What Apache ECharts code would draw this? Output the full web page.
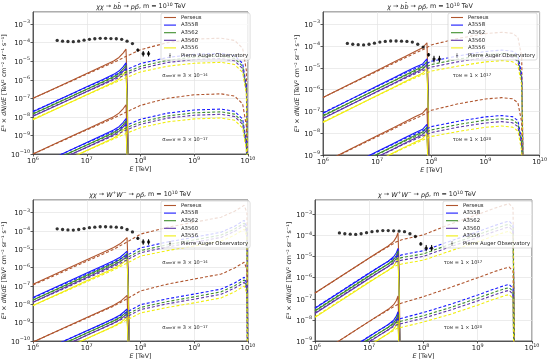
<!DOCTYPE html>
<html><head><meta charset="utf-8">
<script src="https://cdn.jsdelivr.net/npm/echarts@6/dist/echarts.min.js"></script>
<style>html,body{margin:0;padding:0;background:#fff}#c{width:550px;height:362px}</style>
</head><body><div id="c"></div><script>
// ---------------- DATA (log10 values) ----------------
const CLUSTERS = ['Perseus', 'A3558', 'A3562', 'A3560', 'A3556'];
const AUGER = 'Pierre Auger Observatory';

// Panel 1: chi chi -> b bbar -> p pbar (annihilation)
const p1SolidE  = [6, 6.5, 7, 7.3, 7.5, 7.6, 7.68, 7.73, 7.75, 7.78];
const p1UpSolid = [-7.0, -6.33, -5.66, -5.26, -4.99, -4.8, -4.55, -4.35, -6.0, -12];
const p1LoSolid = [-10.0, -9.33, -8.66, -8.26, -7.99, -7.8, -7.55, -7.35, -9.0, -15];
const p1DashE   = [6, 6.5, 7, 7.5, 7.75, 8, 8.5, 9, 9.5, 9.75, 9.9, 9.97, 10.0];
const p1UpDash  = [-7.0, -6.35, -5.7, -5.07, -4.72, -4.38, -4.0, -3.81, -3.76, -3.88, -4.3, -5.5, -12];
const p1LoDash  = [-10.0, -9.35, -8.7, -8.07, -7.72, -7.38, -7.0, -6.81, -6.76, -6.88, -7.3, -8.5, -15];

// Panel 2: chi -> b bbar -> p pbar (decay)
const p2SolidE  = [6, 6.5, 7, 7.3, 7.5, 7.7, 7.84, 7.92, 7.94, 7.97];
const p2UpSolid = [-6.36, -5.74, -5.12, -4.75, -4.5, -4.25, -4.08, -3.85, -5.5, -12];
const p2LoSolid = [-9.36, -8.74, -8.12, -7.75, -7.5, -7.25, -7.08, -6.85, -8.5, -15];
const p2DashE   = [6, 6.5, 7, 7.5, 7.9, 8, 8.5, 9, 9.3, 9.5, 9.6, 9.67, 9.71];
const p2UpDash  = [-6.36, -5.76, -5.16, -4.56, -4.1, -3.95, -3.65, -3.43, -3.37, -3.42, -3.6, -4.5, -12];
const p2LoDash  = [-9.36, -8.76, -8.16, -7.56, -7.1, -6.95, -6.65, -6.43, -6.37, -6.42, -6.6, -7.5, -15];

// Panel 3: chi chi -> W+ W- -> p pbar (annihilation)
const p3SolidE  = [6, 6.5, 7, 7.3, 7.5, 7.62, 7.7, 7.75, 7.77, 7.8];
const p3UpSolid = [-6.91, -6.24, -5.57, -5.17, -4.9, -4.7, -4.5, -4.36, -6.0, -12];
const p3LoSolid = [-10.06, -9.39, -8.72, -8.32, -8.05, -7.85, -7.65, -7.51, -9.15, -15];
const p3DashE   = [6, 6.5, 7, 7.5, 7.75, 8, 8.5, 9, 9.5, 9.75, 9.93, 9.98, 10.0];
const p3UpDash  = [-6.95, -6.3, -5.65, -5.0, -4.6, -4.17, -3.8, -3.52, -3.25, -2.92, -2.6, -3.0, -12];
const p3LoDash  = [-10.05, -9.4, -8.75, -8.1, -7.7, -7.27, -6.9, -6.62, -6.35, -6.02, -5.7, -6.1, -15];

// Panel 4: chi -> W+ W- -> p pbar (decay)
const p4SolidE  = [6, 6.5, 7, 7.2, 7.35, 7.45, 7.5, 7.53, 7.55, 7.58];
const p4UpSolid = [-6.73, -5.9, -5.07, -4.74, -4.5, -4.28, -4.08, -3.87, -5.5, -12];
const p4LoSolid = [-9.73, -8.9, -8.07, -7.74, -7.5, -7.28, -7.08, -6.87, -8.5, -15];
const p4DashE   = [6, 6.5, 7, 7.5, 7.6, 8, 8.5, 9, 9.3, 9.5, 9.58, 9.65, 9.69];
const p4UpDash  = [-6.73, -5.9, -5.07, -4.3, -4.2, -3.97, -3.46, -3.0, -2.72, -2.55, -2.5, -2.69, -12];
const p4LoDash  = [-9.73, -8.9, -8.07, -7.3, -7.2, -6.9, -6.46, -6.0, -5.72, -5.55, -5.5, -5.69, -15];

// Other clusters relative to Perseus (log10 offsets)
const solidOffset = [
  [0, 0, 0, 0, 0, 0, 0, 0, 0, 0],
  [-0.72, -0.72, -0.72, -0.72, -0.72, -0.73, -0.74, -0.74, -0.74, -0.74],
  [-0.85, -0.85, -0.85, -0.85, -0.85, -0.86, -0.87, -0.87, -0.87, -0.87],
  [-0.97, -0.97, -0.97, -0.97, -0.97, -0.98, -0.99, -0.99, -0.99, -0.99],
  [-1.15, -1.15, -1.15, -1.15, -1.15, -1.16, -1.17, -1.17, -1.17, -1.17]
];
const dashOffset = [
  [0, 0, 0, 0, 0, 0, 0, 0, 0, 0, 0, 0, 0],
  [-0.7, -0.7, -0.7, -0.7, -0.72, -0.75, -0.8, -0.82, -0.82, -0.82, -0.82, -0.82, 0],
  [-0.82, -0.82, -0.82, -0.82, -0.85, -0.9, -0.95, -0.97, -0.97, -0.97, -0.97, -0.97, 0],
  [-0.94, -0.94, -0.94, -0.94, -0.97, -1.02, -1.07, -1.1, -1.1, -1.1, -1.1, -1.1, 0],
  [-1.12, -1.12, -1.12, -1.12, -1.15, -1.2, -1.27, -1.3, -1.3, -1.3, -1.3, -1.3, 0]
];

// Pierre Auger Observatory data
const augerLogE   = [6.45, 6.55, 6.65, 6.75, 6.85, 6.95, 7.05, 7.15, 7.25, 7.35, 7.45, 7.55, 7.65, 7.75, 7.85, 7.95, 8.05, 8.15];
const augerLogY   = [-3.88, -3.92, -3.94, -3.95, -3.92, -3.87, -3.82, -3.79, -3.77, -3.77, -3.78, -3.79, -3.82, -3.92, -4.05, -4.4, -4.6, -4.6];
const augerLogErr = [0, 0, 0, 0, 0, 0, 0, 0, 0, 0, 0, 0, 0, 0, 0, 0.08, 0.15, 0.15];

const titles = [
  '{i|χχ} → {i|bb̄} → {i|pp̄}, m = 10{s|10} TeV',
  '{i|χ} → {i|bb̄} → {i|pp̄}, m = 10{s|10} TeV',
  '{i|χχ} → {i|W}{s|+}{i|W}{s|−} → {i|pp̄}, m = 10{s|10} TeV',
  '{i|χ} → {i|W}{s|+}{i|W}{s|−} → {i|pp̄}, m = 10{s|10} TeV'
];
const annUpper = ['σ{sub|ann}v = 3 × 10{sup|−14}', 'τ{sub|DM} = 1 × 10{sup|17}', 'σ{sub|ann}v = 3 × 10{sup|−14}', 'τ{sub|DM} = 1 × 10{sup|17}'];
const annLower = ['σ{sub|ann}v = 3 × 10{sup|−17}', 'τ{sub|DM} = 1 × 10{sup|20}', 'σ{sub|ann}v = 3 × 10{sup|−17}', 'τ{sub|DM} = 1 × 10{sup|20}'];
const xAxisTitle = '{i|E} [TeV]';
const yAxisTitle = '{i|E}³ × {i|dN}/{i|dE} [TeV² cm⁻² sr⁻¹ s⁻¹]';

// ---------------- LAYOUT / STYLE ----------------
const COLORS = ['#b0562f', '#1a1aff', '#3e8e2c', '#5e36a8', '#f0ee10'];
const FONT = 'DejaVu Sans';
const panels = [
  {solidE: p1SolidE, dashE: p1DashE, up: [p1UpSolid, p1UpDash], lo: [p1LoSolid, p1LoDash],
   yMin: 1e-10, yMaxExp: -2.35, grid: {left: 33, top: 12, width: 215, height: 142},
   legend: {left: 161, top: 13}, yGap: 22, titlePos: [141, 6], annPos: [[185, 76], [185, 140]]},
  {solidE: p2SolidE, dashE: p2DashE, up: [p2UpSolid, p2UpDash], lo: [p2LoSolid, p2LoDash],
   yMin: 1e-9, yMaxExp: -2.44, grid: {left: 323, top: 12, width: 217, height: 143},
   legend: {left: 448, top: 13}, yGap: 16, titlePos: [430, 6], annPos: [[472, 76], [472, 140]]},
  {solidE: p3SolidE, dashE: p3DashE, up: [p3UpSolid, p3UpDash], lo: [p3LoSolid, p3LoDash],
   yMin: 1e-10, yMaxExp: -2.31, grid: {left: 33, top: 200, width: 215, height: 141},
   legend: {left: 161, top: 201}, yGap: 22, titlePos: [140, 194], annPos: [[185, 263], [185, 328]]},
  {solidE: p4SolidE, dashE: p4DashE, up: [p4UpSolid, p4UpDash], lo: [p4LoSolid, p4LoDash],
   yMin: 1e-9, yMaxExp: -2.32, grid: {left: 315, top: 200, width: 217, height: 141},
   legend: {left: 443, top: 201}, yGap: 14, titlePos: [427, 194], annPos: [[463, 263], [463, 328]]}
];

function powLabel(v) {
  const e = Math.round(Math.log10(v));
  return '{b|10}{s|' + (e < 0 ? '−' + (-e) : e) + '}';
}
const tickRich = {
  b: {fontSize: 6.8, fontFamily: FONT, color: '#222', lineHeight: 9, verticalAlign: 'bottom'},
  s: {fontSize: 4.9, fontFamily: FONT, color: '#222', lineHeight: 5, verticalAlign: 'top'}
};

const grids = [], xAxes = [], yAxes = [], series = [], legends = [], graphics = [];
const axisLineStyle = {color: '#333', width: 0.8};
const gridLineStyle = {color: '#e4e4e4', width: 0.7};

panels.forEach((p, i) => {
  grids.push(Object.assign({show: true, borderColor: '#333', borderWidth: 0.8, containLabel: false}, p.grid));
  xAxes.push({
    type: 'log', logBase: 10, gridIndex: i, min: 1e6, max: 1e10,
    axisLine: {show: true, lineStyle: axisLineStyle},
    axisTick: {show: true, length: 2.5, lineStyle: axisLineStyle},
    axisLabel: {formatter: powLabel, rich: tickRich, margin: 2},
    splitLine: {show: true, lineStyle: gridLineStyle},
    name: xAxisTitle, nameLocation: 'middle', nameGap: i < 2 ? 11 : 9,
    nameTextStyle: {fontSize: 6.3, fontFamily: FONT, color: '#222', rich: {i: {fontStyle: 'italic', fontSize: 6.3, fontFamily: FONT}}}
  });
  yAxes.push({
    type: 'log', logBase: 10, gridIndex: i, min: p.yMin, max: Math.pow(10, p.yMaxExp),
    axisLine: {show: true, lineStyle: axisLineStyle},
    axisTick: {show: true, length: 2.5, lineStyle: axisLineStyle},
    axisLabel: {formatter: powLabel, rich: tickRich, margin: 3, showMaxLabel: false},
    splitLine: {show: true, lineStyle: gridLineStyle},
    name: yAxisTitle, nameLocation: 'middle', nameGap: p.yGap,
    nameTextStyle: {fontSize: 6.3, fontFamily: FONT, color: '#222', rich: {i: {fontStyle: 'italic', fontSize: 6.3, fontFamily: FONT}}}
  });
});

// solid curves first (legend takes style from first series of a name)
panels.forEach((p, i) => {
  [p.up, p.lo].forEach(grp => {
    CLUSTERS.forEach((name, c) => {
      series.push({
        type: 'line', name, xAxisIndex: i, yAxisIndex: i, symbol: 'none', silent: true, animation: false,
        clip: true, z: 3,
        lineStyle: {color: COLORS[c], width: 1.1, type: 'solid'}, itemStyle: {color: COLORS[c]},
        data: p.solidE.map((e, k) => [Math.pow(10, e), Math.pow(10, grp[0][k] + solidOffset[c][k])])
      });
    });
  });
});
panels.forEach((p, i) => {
  [p.up, p.lo].forEach(grp => {
    CLUSTERS.forEach((name, c) => {
      series.push({
        type: 'line', name, xAxisIndex: i, yAxisIndex: i, symbol: 'none', silent: true, animation: false,
        clip: true, z: 3,
        lineStyle: {color: COLORS[c], width: 1.1, type: [3, 2]}, itemStyle: {color: COLORS[c]},
        data: p.dashE.map((e, k) => [Math.pow(10, e), Math.pow(10, grp[1][k] + dashOffset[c][k])])
      });
    });
  });
});
const LINE_ICON = 'path://M0,0h24v2.2h-24z';
const AUGER_ICON = 'path://M1.6,0h0.8v8h-0.8z M2,2.5a1.5,1.5 0 1,0 0.01,0z';
panels.forEach((p, i) => {
  series.push({
    type: 'scatter', name: AUGER, xAxisIndex: i, yAxisIndex: i, symbol: 'circle', symbolSize: 3.3,
    itemStyle: {color: '#000'}, silent: true, animation: false, z: 5,
    data: augerLogE.map((e, k) => [Math.pow(10, e), Math.pow(10, augerLogY[k])])
  });
  series.push({
    type: 'custom', name: 'auger-errors', xAxisIndex: i, yAxisIndex: i, silent: true, animation: false, z: 5,
    data: augerLogE.map((e, k) => [Math.pow(10, e), Math.pow(10, augerLogY[k] - augerLogErr[k]), Math.pow(10, augerLogY[k] + augerLogErr[k])])
      .filter((d, k) => augerLogErr[k] > 0),
    encode: {x: 0, y: [1, 2]},
    renderItem: (params, api) => {
      const a = api.coord([api.value(0), api.value(1)]);
      const b = api.coord([api.value(0), api.value(2)]);
      return {type: 'line', shape: {x1: a[0], y1: a[1], x2: b[0], y2: b[1]}, style: {stroke: '#000', lineWidth: 1}};
    }
  });
  legends.push({
    left: p.legend.left, top: p.legend.top, orient: 'vertical', selectedMode: false,
    itemWidth: 12, itemHeight: 5, itemGap: 2.6, symbolKeepAspect: true,
    padding: [2, 2, 2, 3], backgroundColor: 'rgba(255,255,255,0.8)', borderColor: '#cfcfcf', borderWidth: 0.7, borderRadius: 2,
    textStyle: {fontSize: 5.3, fontFamily: FONT, color: '#222'},
    data: CLUSTERS.map(n => ({name: n, icon: LINE_ICON})).concat([{name: AUGER, icon: AUGER_ICON}]),
    z: 10
  });
  graphics.push({
    type: 'text', x: p.titlePos[0], y: p.titlePos[1], z: 10,
    style: {text: titles[i], fontSize: 6.4, fontFamily: FONT, fill: '#222', align: 'center', verticalAlign: 'middle',
      rich: {i: {fontStyle: 'italic', fontSize: 6.4, fontFamily: FONT, lineHeight: 8, verticalAlign: 'bottom'},
             s: {fontSize: 4.6, fontFamily: FONT, lineHeight: 4.6, verticalAlign: 'top'}}}
  });
  [annUpper[i], annLower[i]].forEach((t, j) => {
    graphics.push({
      type: 'text', x: p.annPos[j][0], y: p.annPos[j][1], z: 10,
      style: {text: t, fontSize: 5, fontFamily: FONT, fill: '#222', align: 'center', verticalAlign: 'middle',
        rich: {sub: {fontSize: 3.8, fontFamily: FONT, lineHeight: 4, verticalAlign: 'bottom'},
               sup: {fontSize: 3.8, fontFamily: FONT, lineHeight: 4, verticalAlign: 'top'}}}
    });
  });
});

const chart = echarts.init(document.getElementById('c'), null, {renderer: 'canvas'});
chart.setOption({
  animation: false,
  backgroundColor: '#fff',
  grid: grids, xAxis: xAxes, yAxis: yAxes, series, legend: legends, graphic: graphics
});
</script></body></html>
